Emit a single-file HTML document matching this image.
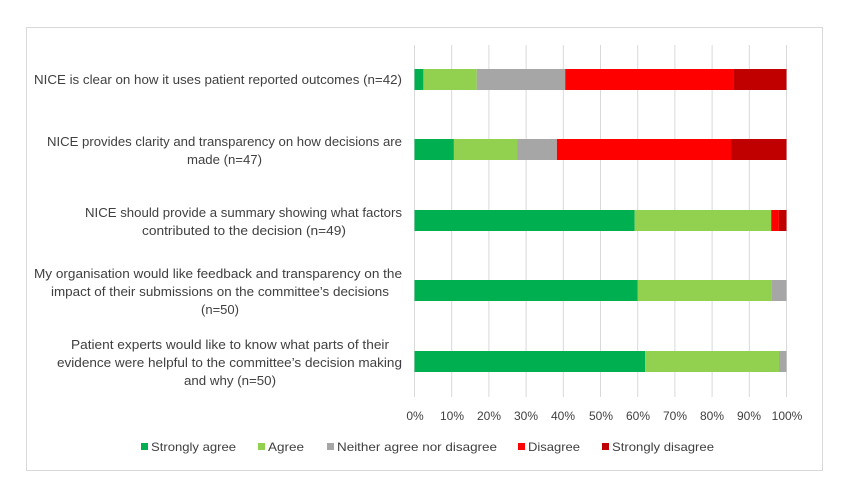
<!DOCTYPE html>
<html><head><meta charset="utf-8"><style>
html,body{margin:0;padding:0;background:#fff;}
svg{display:block;font-family:"Liberation Sans",sans-serif;}
</style></head><body>
<svg width="848" height="497" viewBox="0 0 848 497">
<rect x="26.5" y="27.5" width="796" height="443" fill="#fff" stroke="#d9d9d9" stroke-width="1"/>
<g stroke="#d9d9d9" stroke-width="1">
<line x1="414.5" y1="45" x2="414.5" y2="397"/>
<line x1="451.7" y1="45" x2="451.7" y2="397"/>
<line x1="488.9" y1="45" x2="488.9" y2="397"/>
<line x1="526.1" y1="45" x2="526.1" y2="397"/>
<line x1="563.3" y1="45" x2="563.3" y2="397"/>
<line x1="600.5" y1="45" x2="600.5" y2="397"/>
<line x1="637.7" y1="45" x2="637.7" y2="397"/>
<line x1="674.9" y1="45" x2="674.9" y2="397"/>
<line x1="712.1" y1="45" x2="712.1" y2="397"/>
<line x1="749.3" y1="45" x2="749.3" y2="397"/>
<line x1="786.5" y1="45" x2="786.5" y2="397"/>
</g>
<rect x="414.5" y="69" width="8.9" height="21" fill="#00b050"/>
<rect x="423.4" y="69" width="53.3" height="21" fill="#92d050"/>
<rect x="476.7" y="69" width="88.5" height="21" fill="#a6a6a6"/>
<rect x="565.2" y="69" width="168.2" height="21" fill="#ff0000"/>
<rect x="733.4" y="69" width="53.1" height="21" fill="#c00000"/>
<rect x="414.5" y="139" width="39.4" height="21" fill="#00b050"/>
<rect x="453.9" y="139" width="63.6" height="21" fill="#92d050"/>
<rect x="517.5" y="139" width="39.4" height="21" fill="#a6a6a6"/>
<rect x="556.9" y="139" width="174.1" height="21" fill="#ff0000"/>
<rect x="731" y="139" width="55.5" height="21" fill="#c00000"/>
<rect x="414.5" y="210" width="220.2" height="21" fill="#00b050"/>
<rect x="634.7" y="210" width="136.5" height="21" fill="#92d050"/>
<rect x="771.2" y="210" width="7.7" height="21" fill="#ff0000"/>
<rect x="778.9" y="210" width="7.6" height="21" fill="#c00000"/>
<rect x="414.5" y="280" width="223.2" height="21" fill="#00b050"/>
<rect x="637.7" y="280" width="133.9" height="21" fill="#92d050"/>
<rect x="771.6" y="280" width="14.9" height="21" fill="#a6a6a6"/>
<rect x="414.5" y="351" width="230.6" height="21" fill="#00b050"/>
<rect x="645.1" y="351" width="133.9" height="21" fill="#92d050"/>
<rect x="779" y="351" width="7.5" height="21" fill="#a6a6a6"/>
<g font-size="12.5" fill="#404040" lengthAdjust="spacingAndGlyphs">
<text x="34" y="84" textLength="368" lengthAdjust="spacingAndGlyphs">NICE is clear on how it uses patient reported outcomes (n=42)</text>
<text x="47" y="146" textLength="355" lengthAdjust="spacingAndGlyphs">NICE provides clarity and transparency on how decisions are</text>
<text x="187" y="164" textLength="75" lengthAdjust="spacingAndGlyphs">made (n=47)</text>
<text x="85" y="217" textLength="317" lengthAdjust="spacingAndGlyphs">NICE should provide a summary showing what factors</text>
<text x="142" y="235" textLength="204" lengthAdjust="spacingAndGlyphs">contributed to the decision (n=49)</text>
<text x="34" y="278" textLength="368" lengthAdjust="spacingAndGlyphs">My organisation would like feedback and transparency on the</text>
<text x="51" y="296" textLength="338" lengthAdjust="spacingAndGlyphs">impact of their submissions on the committee’s decisions</text>
<text x="201" y="314" textLength="38" lengthAdjust="spacingAndGlyphs">(n=50)</text>
<text x="71" y="349" textLength="318" lengthAdjust="spacingAndGlyphs">Patient experts would like to know what parts of their</text>
<text x="57" y="367" textLength="345" lengthAdjust="spacingAndGlyphs">evidence were helpful to the committee’s decision making</text>
<text x="184" y="385" textLength="92" lengthAdjust="spacingAndGlyphs">and why (n=50)</text>
</g>
<g font-size="12" fill="#404040" text-anchor="middle">
<text x="415" y="420">0%</text>
<text x="452" y="420">10%</text>
<text x="489" y="420">20%</text>
<text x="526" y="420">30%</text>
<text x="563" y="420">40%</text>
<text x="601" y="420">50%</text>
<text x="638" y="420">60%</text>
<text x="675" y="420">70%</text>
<text x="712" y="420">80%</text>
<text x="749" y="420">90%</text>
<text x="787" y="420">100%</text>
</g>
<g font-size="12" fill="#404040">
<rect x="141" y="443" width="7" height="7" fill="#00b050"/>
<text x="151" y="451" textLength="85" lengthAdjust="spacingAndGlyphs">Strongly agree</text>
<rect x="258" y="443" width="7" height="7" fill="#92d050"/>
<text x="268" y="451" textLength="36" lengthAdjust="spacingAndGlyphs">Agree</text>
<rect x="327" y="443" width="7" height="7" fill="#a6a6a6"/>
<text x="337" y="451" textLength="160" lengthAdjust="spacingAndGlyphs">Neither agree nor disagree</text>
<rect x="518" y="443" width="7" height="7" fill="#ff0000"/>
<text x="528" y="451" textLength="52" lengthAdjust="spacingAndGlyphs">Disagree</text>
<rect x="602" y="443" width="7" height="7" fill="#c00000"/>
<text x="612" y="451" textLength="102" lengthAdjust="spacingAndGlyphs">Strongly disagree</text>
</g>
</svg>
</body></html>
